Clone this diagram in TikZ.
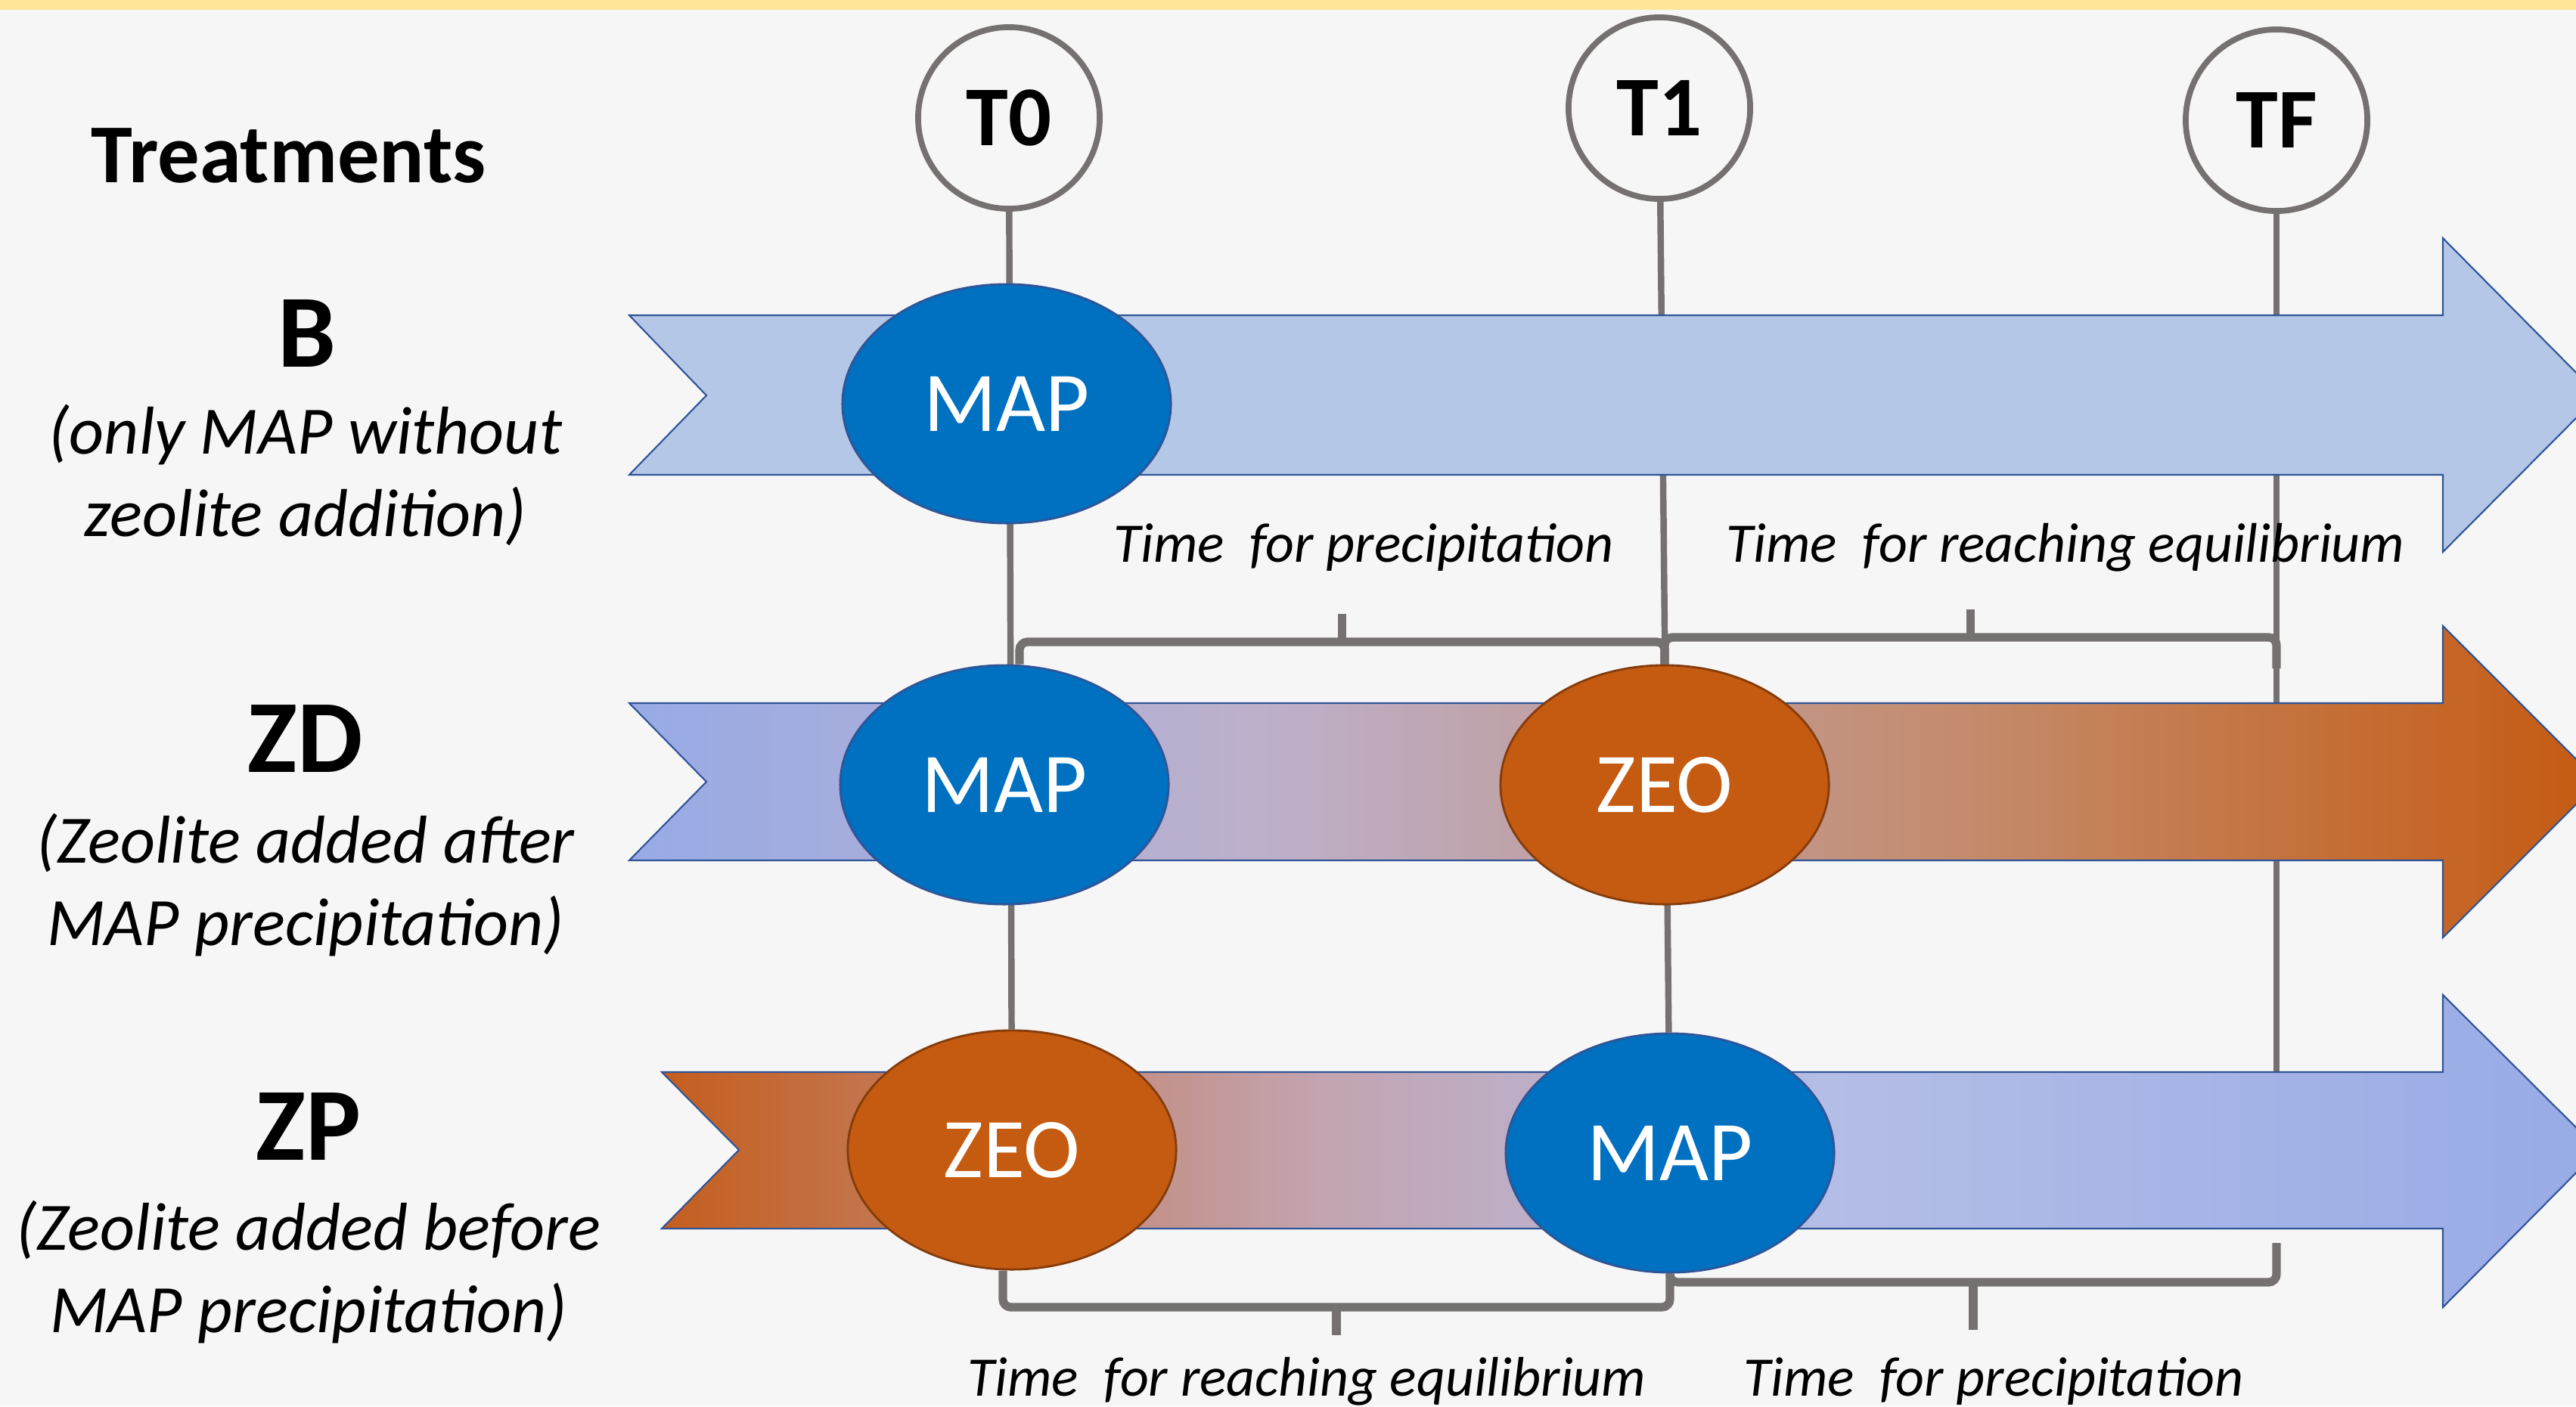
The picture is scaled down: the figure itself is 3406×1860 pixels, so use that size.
\documentclass[tikz,border=0pt]{standalone}
\usepackage{fontspec}
\setmainfont{Carlito}
\usetikzlibrary{shapes.geometric,calc}

\definecolor{paper}{HTML}{F6F6F6}
\definecolor{strip}{HTML}{FFE699}
\definecolor{linegray}{HTML}{767171}
\definecolor{mapblue}{HTML}{0070C0}
\definecolor{mapedge}{HTML}{2F5597}
\definecolor{zeoorange}{HTML}{C55A11}
\definecolor{zeoedge}{HTML}{843C0C}
\definecolor{barblue}{HTML}{B4C7E7}
\definecolor{zdA}{HTML}{98ABE6}
\definecolor{zdB}{HTML}{BDB0CB}
\definecolor{zdC}{HTML}{C48B6C}
\definecolor{zdD}{HTML}{C55A11}
\definecolor{zpA}{HTML}{C45E1E}
\definecolor{zpB}{HTML}{C3A4B0}
\definecolor{zpC}{HTML}{B4BDE6}
\definecolor{zpD}{HTML}{97ABE6}

\pgfdeclarehorizontalshading{zdshade}{100bp}{color(0bp)=(zdA); color(25bp)=(zdA);
  color(41bp)=(zdB); color(59bp)=(zdC); color(75bp)=(zdD); color(100bp)=(zdD)}
\pgfdeclarehorizontalshading{zpshade}{100bp}{color(0bp)=(zpA); color(25bp)=(zpA);
  color(42bp)=(zpB); color(55bp)=(zpC); color(75bp)=(zpD); color(100bp)=(zpD)}

\pgfdeclarelayer{paperlayer}
\pgfdeclarelayer{back}
\pgfdeclarelayer{mid}
\pgfsetlayers{paperlayer,back,mid,main}

\tikzset{
  timecircle/.style={circle, draw=linegray, line width=2.2pt, fill=paper,
    minimum size=2.4cm, inner sep=0pt, font=\fontsize{32}{36}\selectfont\bfseries},
  bubble/.style={ellipse, line width=0.8pt, minimum width=4.34cm, minimum height=3.16cm,
    inner sep=0pt, text=white, font=\fontsize{32}{36}\selectfont},
  mapbubble/.style={bubble, fill=mapblue, draw=mapedge},
  zeobubble/.style={bubble, fill=zeoorange, draw=zeoedge},
  tline/.style={draw=linegray, line width=2.4pt},
  braceline/.style={draw=linegray, line width=3.2pt, rounded corners=3pt},
  ttl/.style={font=\fontsize{31.5}{36}\selectfont\bfseries},
  grp/.style={font=\fontsize{39}{44}\selectfont\bfseries},
  desc/.style={align=center, font=\fontsize{25.5}{31}\selectfont\itshape},
  lbl/.style={anchor=base, font=\fontsize{21}{25}\selectfont\itshape}
}

% brace: from #1 to #2, bar at y=#3, tip at y=#4
\newcommand{\timebrace}[4]{%
  \draw[braceline] (#1) -- (#1 |- 0,#3) -- (#2 |- 0,#3) -- (#2);
  \draw[braceline] ($(#1 |- 0,#3)!0.5!(#2 |- 0,#3)$) -- ++(0,#4-#3);
}

\begin{document}
\begin{tikzpicture}[x=0.01cm, y=-0.01cm]
    \useasboundingbox (0,0) rectangle (3406,1860);
    % Paper
    \begin{pgfonlayer}{paperlayer}
      \fill[paper] (0,0) rectangle (3406,1860);
      \fill[strip] (0,0) rectangle (3406,13);
    \end{pgfonlayer}
    % Time points
    \node[timecircle] (t0) at (1334,156) {T0};
    \node[timecircle] (t1) at (2194,143) {T1};
    \node[timecircle] (tf) at (3010,159) {TF};
    % Treatment names
    \node[ttl] (treat) at (382,206) {Treatments};
    \node[grp] (bname) at (406,441) {B};
    \node[desc] (bdesc) at (404,628) {(only MAP without\\zeolite addition)};
    \node[grp] (dname) at (404,977) {ZD};
    \node[desc] (ddesc) at (404,1170) {(Zeolite added after\\MAP precipitation)};
    \node[grp] (pname) at (408,1490) {ZP};
    \node[desc] (pdesc) at (408,1682) {(Zeolite added before\\MAP precipitation)};
    % Bars
    \begin{pgfonlayer}{mid}
      \path[fill=barblue, draw=mapedge, line width=0.6pt] (832,417) -- (3230,417) -- (3230,315)
        -- (3436,523) -- (3230,730) -- (3230,628) -- (832,628) -- (934,523) -- cycle;
      \path[shading=zdshade, draw=mapedge, line width=0.6pt] (832,930) -- (3230,930) -- (3230,828)
        -- (3436,1034) -- (3230,1240) -- (3230,1138) -- (832,1138) -- (934,1034) -- cycle;
      \path[shading=zpshade, draw=mapedge, line width=0.6pt] (875,1418) -- (3230,1418) -- (3230,1316)
        -- (3436,1521) -- (3230,1729) -- (3230,1625) -- (875,1625) -- (977,1521) -- cycle;
    \end{pgfonlayer}
    % Steps
    \node[mapbubble] (mapB) at (1331,534) {MAP};
    \node[mapbubble] (mapD) at (1328,1038) {MAP};
    \node[zeobubble] (zeoD) at (2201,1038) {ZEO};
    \node[zeobubble] (zeoP) at (1338,1521) {ZEO};
    \node[mapbubble] (mapP) at (2208,1525) {MAP};
    % Time lines and braces
    \begin{pgfonlayer}{back}
      \draw[tline] (t0) -- (zeoP);
      \draw[tline] (t1) -- (mapP);
      \draw[tline] (tf) -- (tf |- mapP.center);
      \timebrace{[xshift=0.2cm]mapD.north}{zeoD.north}{849}{812}
      \timebrace{zeoD.north}{tf |- 0,884}{843}{806}
      \timebrace{[xshift=-0.12cm]zeoP.south}{mapP.south}{1729}{1766}
      \timebrace{mapP.south}{tf |- 0,1644}{1696}{1759}
    \end{pgfonlayer}
    % Durations
    \node[lbl] (precB) at (1803,743) {Time\ \ for precipitation};
    \node[lbl] (equiB) at (2731,743) {Time\ \ for reaching equilibrium};
    \node[lbl] (equiP) at (1728,1846) {Time\ \ for reaching equilibrium};
    \node[lbl] (precP) at (2636,1846) {Time\ \ for precipitation};
\end{tikzpicture}
\end{document}
